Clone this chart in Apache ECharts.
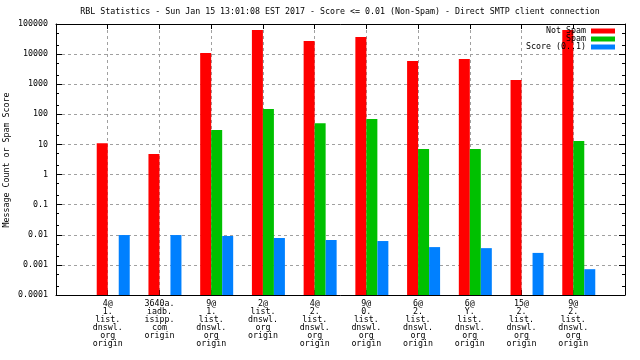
<!DOCTYPE html>
<html><head><meta charset="utf-8">
<script src="https://cdn.jsdelivr.net/npm/echarts@6/dist/echarts.min.js"></script>
<style>html,body{margin:0;padding:0;background:#fff}#c{width:640px;height:360px}</style>
</head><body><div id="c"></div>
<script>
const categories = [
  "4@\n1.\nlist.\ndnswl.\norg\norigin",
  "3640a.\niadb.\nisipp.\ncom\norigin",
  "9@\n1.\nlist.\ndnswl.\norg\norigin",
  "2@\nlist.\ndnswl.\norg\norigin",
  "4@\n2.\nlist.\ndnswl.\norg\norigin",
  "9@\n0.\nlist.\ndnswl.\norg\norigin",
  "6@\n2.\nlist.\ndnswl.\norg\norigin",
  "6@\nY.\nlist.\ndnswl.\norg\norigin",
  "15@\n2.\nlist.\ndnswl.\norg\norigin",
  "9@\n2.\nlist.\ndnswl.\norg\norigin"
];
const notSpam = [11, 4.8, 10900, 63000, 27000, 37000, 5900, 6900, 1380, 63000];
const spam    = [null, null, 30, 150, 51, 70, 7, 7, null, 13];
const score   = [0.0098, 0.0098, 0.0091, 0.0078, 0.0067, 0.0062, 0.0039, 0.0036, 0.0025, 0.00072];
const yTickLabels = ['0.0001','0.001','0.01','0.1','1','10','100','1000','10000','100000'];
const yMinorMultipliers = [2, 5];
const seriesNames = ['Not Spam', 'Spam', 'Score (0..1)'];
const seriesColors = ['#ff0000', '#00c000', '#0080ff'];
const yAxisTitle = 'Message Count or Spam Score';

const FONT = 'DejaVu Sans Mono';
const FS = 8.3;
const padCats = [''].concat(categories, ['']);
const pad = arr => [null].concat(arr, [null]);
const yMin = 1e-4, yMax = 1e5;
const minorVals = [];
for (let e = -4; e < 5; e++) yMinorMultipliers.forEach(m => minorVals.push(m * Math.pow(10, e)));

const chart = echarts.init(document.getElementById('c'), null, {renderer: 'canvas'});
const baseY = {type: 'log', logBase: 10, min: yMin, max: yMax, interval: 1, startValue: yMin};
chart.setOption({
  animation: false,
  backgroundColor: '#fff',
  title: {
    text: 'RBL Statistics - Sun Jan 15 13:01:08 EST 2017 - Score <= 0.01 (Non-Spam) - Direct SMTP client connection',
    left: 340, top: 8, textAlign: 'center', padding: 0,
    textStyle: {fontFamily: FONT, fontSize: FS, fontWeight: 'normal', color: '#000'}
  },
  graphic: [{
    type: 'text', x: 7, y: 160, rotation: Math.PI / 2,
    style: {text: yAxisTitle, fontFamily: FONT, fontSize: FS, fill: '#000', align: 'center', verticalAlign: 'middle'}
  }],
  legend: {
    data: seriesNames, orient: 'vertical', right: 25, top: 27, align: 'right',
    itemWidth: 24, itemHeight: 5, itemGap: 0, icon: 'rect', padding: 0,
    textStyle: {fontFamily: FONT, fontSize: FS, lineHeight: 8, color: '#000'}
  },
  grid: {left: 56, right: 15, top: 24, bottom: 65, containLabel: false, outerBoundsMode: 'none'},
  xAxis: [{
    type: 'category', data: padCats, boundaryGap: false, position: 'bottom',
    axisLine: {show: true, lineStyle: {color: '#000', width: 1}},
    axisTick: {show: true, inside: true, length: 5, lineStyle: {color: '#000'}, interval: 0},
    axisLabel: {interval: 0, margin: 5, fontFamily: FONT, fontSize: FS, lineHeight: 8, color: '#000', align: 'center'},
    splitLine: {show: true, interval: 0, lineStyle: {color: '#a0a0a0', type: [3, 3], width: 1}}
  }, {
    type: 'category', data: padCats, boundaryGap: false, position: 'top',
    axisLine: {show: true, lineStyle: {color: '#000', width: 1}},
    axisTick: {show: true, inside: true, length: 5, lineStyle: {color: '#000'}, interval: 0},
    axisLabel: {show: false}, splitLine: {show: false}
  }],
  yAxis: [Object.assign({}, baseY, {
    position: 'left',
    axisLine: {show: true, lineStyle: {color: '#000', width: 1}},
    axisTick: {show: true, inside: true, length: 6, lineStyle: {color: '#000'}},
    axisLabel: {margin: 8, fontFamily: FONT, fontSize: FS, color: '#000',
      formatter: v => yTickLabels[Math.round(Math.log10(v)) + 4]},
    splitLine: {show: true, lineStyle: {color: '#a0a0a0', type: [3, 3], width: 1}}
  }), Object.assign({}, baseY, {
    position: 'right',
    axisLine: {show: true, lineStyle: {color: '#000', width: 1}},
    axisTick: {show: true, inside: true, length: 6, lineStyle: {color: '#000'}},
    axisLabel: {show: false}, splitLine: {show: false}
  }), Object.assign({}, baseY, {
    position: 'left',
    axisLine: {show: false},
    axisTick: {show: true, inside: true, length: 3, customValues: minorVals, lineStyle: {color: '#000'}},
    axisLabel: {show: false}, splitLine: {show: false}
  }), Object.assign({}, baseY, {
    position: 'right',
    axisLine: {show: false},
    axisTick: {show: true, inside: true, length: 3, customValues: minorVals, lineStyle: {color: '#000'}},
    axisLabel: {show: false}, splitLine: {show: false}
  })],
  series: [
    {name: '_pad', type: 'bar', data: [], barWidth: 11, barGap: '0%', silent: true},
    {name: seriesNames[0], type: 'bar', data: pad(notSpam), barWidth: 11, barGap: '0%', itemStyle: {color: seriesColors[0]}},
    {name: seriesNames[1], type: 'bar', data: pad(spam), barWidth: 11, barGap: '0%', itemStyle: {color: seriesColors[1]}},
    {name: seriesNames[2], type: 'bar', data: pad(score), barWidth: 11, barGap: '0%', itemStyle: {color: seriesColors[2]}}
  ]
});
</script></body></html>
